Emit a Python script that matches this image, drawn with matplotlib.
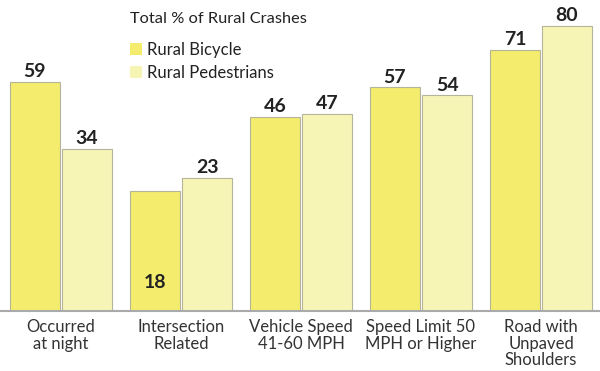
import matplotlib
matplotlib.use("Agg")
import matplotlib.pyplot as plt
from matplotlib.patches import Patch
import numpy as np

plt.rcParams['font.family'] = ['Lato', 'DejaVu Sans']

categories = ["Occurred\nat night", "Intersection\nRelated", "Vehicle Speed\n41-60 MPH",
              "Speed Limit 50\nMPH or Higher", "Road with\nUnpaved\nShoulders"]
bicycle = [59, 18, 46, 57, 71]
pedestrians = [34, 23, 47, 54, 80]
series_names = ["Rural Bicycle", "Rural Pedestrians"]
legend_title = "Total % of Rural Crashes"

BASE = -26.7
TOP = 89.7
c_bike = "#F3EC6C"
c_ped = "#F7F5B6"
edge = "#B5B39A"

fig = plt.figure(figsize=(6, 3.71), dpi=100)
ax = fig.add_axes([1/600, (371 - 310.7) / 371, 1.0, 310.7 / 371])

x = np.arange(len(categories))
w = 0.415
off = 0.217
b = np.array(bicycle, dtype=float)
p = np.array(pedestrians, dtype=float)
ax.bar(x - off, b - BASE, bottom=BASE, width=w, color=c_bike, edgecolor=edge, linewidth=0.8)
ax.bar(x + off, p - BASE, bottom=BASE, width=w, color=c_ped, edgecolor=edge, linewidth=0.8)

for xi, v in zip(x - off, b):
    if v < 20:
        ax.text(xi, BASE + 7.3, f"{v:.0f}", ha='center', va='bottom', fontsize=14,
                fontweight='bold', color='#222222')
    else:
        ax.text(xi, v + 0.6, f"{v:.0f}", ha='center', va='bottom', fontsize=14,
                fontweight='bold', color='#222222')
for xi, v in zip(x + off, p):
    ax.text(xi, v + 0.6, f"{v:.0f}", ha='center', va='bottom', fontsize=14,
            fontweight='bold', color='#222222')

ax.set_xlim(-0.5, 4.5)
ax.set_ylim(BASE, TOP)
ax.set_yticks([])
ax.set_xticks(x)
ax.set_xticklabels(categories, fontsize=12, color='#333333', linespacing=1.05)
ax.tick_params(axis='x', length=0, pad=6)
for s in ['top', 'right', 'left']:
    ax.spines[s].set_visible(False)
ax.spines['bottom'].set_color('#AAAAAA')
ax.spines['bottom'].set_linewidth(1.5)

fig.text(130 / 600, 1 - 19 / 371, legend_title, ha='left', va='center', fontsize=11.8, color='#222222')
handles = [Patch(facecolor=c_bike, edgecolor='none'), Patch(facecolor=c_ped, edgecolor='none')]
fig.legend(handles, series_names, loc='upper left', bbox_to_anchor=(130 / 600, 1 - 41.5 / 371),
           frameon=False, fontsize=12, handlelength=0.7, handleheight=0.7,
           handletextpad=0.3, labelspacing=0.45, borderpad=0, borderaxespad=0,
           labelcolor='#222222')

fig.savefig("out.png", dpi=100)
